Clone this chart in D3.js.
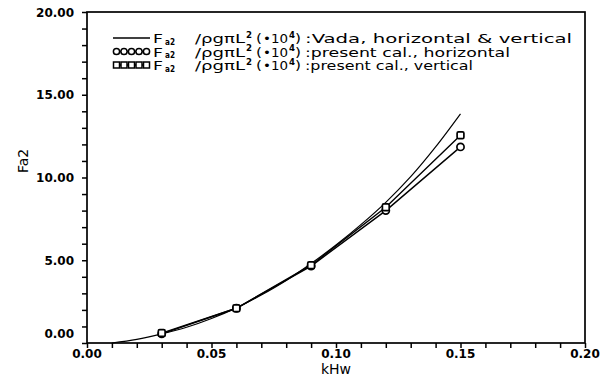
<!DOCTYPE html>
<html>
<head>
<meta charset="utf-8">
<script src="https://cdn.jsdelivr.net/npm/d3@7"></script>
<style>
  html, body { margin: 0; padding: 0; background: #fff; }
  svg { display: block; }
  text { font-family: "DejaVu Sans", sans-serif; fill: #000; }
</style>
</head>
<body>
<svg id="chart" width="603" height="383"></svg>
<script>
// Vada reference curve, kHw vs Fa2 (x 10^4)
const kVada = [0.01, 0.02, 0.03, 0.04, 0.05, 0.06, 0.07, 0.08, 0.09, 0.10, 0.11, 0.12, 0.13, 0.14, 0.15];
const fVada = [0.0, 0.22, 0.55, 0.95, 1.48, 2.12, 2.9, 3.78, 4.8, 5.92, 7.15, 8.5, 10.05, 11.85, 13.85];

// Present calculation, horizontal (circles) and vertical (squares)
const kCalc = [0.03, 0.06, 0.09, 0.12, 0.15];
const fHoriz = [0.55, 2.1, 4.65, 8.0, 11.85];
const fVert = [0.6, 2.1, 4.7, 8.2, 12.55];

// Axis ticks
const xTicks = [0.00, 0.05, 0.10, 0.15, 0.20];
const yTicks = [0, 5, 10, 15, 20];
const xMinor = d3.range(0, 0.2001, 0.01);
const yMinor = d3.range(0, 20.001, 1);

// Legend entries
const legendNames = [":Vada, horizontal & vertical", ":present cal., horizontal", ":present cal., vertical"];
const legendKinds = ["line", "circle", "square"];

const svg = d3.select("#chart");
const plotL = 87, plotR = 585, plotT = 12, plotB = 343;

const x = d3.scaleLinear().domain([0, 0.2]).range([plotL, plotR]);
const y = d3.scaleLinear().domain([0, 20]).range([plotB, plotT]);

// frame
svg.append("rect")
  .attr("x", plotL).attr("y", plotT)
  .attr("width", plotR - plotL).attr("height", plotB - plotT)
  .attr("fill", "none").attr("stroke", "#000").attr("stroke-width", 1.7);

// x axis: major and minor ticks below the frame
const xAxis = svg.append("g").attr("transform", `translate(0,${plotB})`);
xAxis.call(d3.axisBottom(x).tickValues(xMinor).tickSize(5).tickFormat(""))
  .call(g => g.select(".domain").remove())
  .call(g => g.selectAll("line").attr("stroke-width", 1.5));
svg.append("g").selectAll("text").data(xTicks).join("text")
  .attr("x", d => x(d)).attr("y", plotB + 15)
  .attr("text-anchor", "middle")
  .attr("font-size", 12).attr("font-weight", "bold")
  .text(d => d3.format(".2f")(d));

// y axis: ticks to the left of the frame
const yAxis = svg.append("g").attr("transform", `translate(${plotL},0)`);
yAxis.call(d3.axisLeft(y).tickValues(yMinor).tickSize(5).tickFormat(""))
  .call(g => g.select(".domain").remove())
  .call(g => g.selectAll("line").attr("stroke-width", 1.5));
svg.append("g").selectAll("text").data(yTicks).join("text")
  .attr("x", plotL - 13)
  .attr("y", d => y(d) + (d === 0 ? -5 : 4.5))
  .attr("text-anchor", "end")
  .attr("font-size", 12).attr("font-weight", "bold")
  .text(d => d3.format(".2f")(d));

// axis titles
svg.append("text")
  .attr("x", x(0.1)).attr("y", 374)
  .attr("text-anchor", "middle").attr("font-size", 14)
  .text("kHw");
svg.append("text")
  .attr("transform", `translate(28,${y(11)}) rotate(-90)`)
  .attr("text-anchor", "middle").attr("font-size", 14)
  .text("Fa2");

// series
const vadaPts = kVada.map((k, i) => [k, fVada[i]]);
const horizPts = kCalc.map((k, i) => [k, fHoriz[i]]);
const vertPts = kCalc.map((k, i) => [k, fVert[i]]);

const smooth = d3.line().x(d => x(d[0])).y(d => y(d[1])).curve(d3.curveMonotoneX);
const straight = d3.line().x(d => x(d[0])).y(d => y(d[1]));

svg.append("path").attr("d", smooth(vadaPts))
  .attr("fill", "none").attr("stroke", "#000").attr("stroke-width", 1.2);
svg.append("path").attr("d", straight(horizPts))
  .attr("fill", "none").attr("stroke", "#000").attr("stroke-width", 1.4);
svg.append("path").attr("d", straight(vertPts))
  .attr("fill", "none").attr("stroke", "#000").attr("stroke-width", 1.4);

svg.append("g").selectAll("circle").data(horizPts).join("circle")
  .attr("cx", d => x(d[0])).attr("cy", d => y(d[1])).attr("r", 3.6)
  .attr("fill", "#fff").attr("stroke", "#000").attr("stroke-width", 1.7);
svg.append("g").selectAll("rect").data(vertPts).join("rect")
  .attr("x", d => x(d[0]) - 3.4).attr("y", d => y(d[1]) - 3.4)
  .attr("width", 6.8).attr("height", 6.8).attr("rx", 1.4)
  .attr("fill", "#fff").attr("stroke", "#000").attr("stroke-width", 1.7);

// legend
const legend = svg.append("g");
const rowY = [38, 51.5, 65];
const symX0 = 113, symX1 = 150;

function piece(g, str, px, py, size, width, weight) {
  const t = g.append("text").attr("x", px).attr("y", py)
    .attr("font-size", size).text(str);
  if (weight) t.attr("font-weight", weight);
  if (width) t.attr("textLength", width).attr("lengthAdjust", "spacingAndGlyphs");
  return t;
}

legendKinds.forEach((kind, i) => {
  const ly = rowY[i];
  const row = legend.append("g");
  row.append("line").attr("x1", symX0).attr("x2", symX1)
    .attr("y1", ly).attr("y2", ly)
    .attr("stroke", "#000").attr("stroke-width", kind === "line" ? 1.3 : 1.5);
  const xs = d3.range(5).map(j => symX0 + 3.5 + j * 7.5);
  if (kind === "circle") {
    row.selectAll("circle").data(xs).join("circle")
      .attr("cx", d => d).attr("cy", ly).attr("r", 3.1)
      .attr("fill", "#fff").attr("stroke", "#000").attr("stroke-width", 1.5);
  } else if (kind === "square") {
    row.selectAll("rect").data(xs).join("rect")
      .attr("x", d => d - 3).attr("y", ly - 3).attr("width", 6).attr("height", 6)
      .attr("fill", "#fff").attr("stroke", "#000").attr("stroke-width", 1.5);
  }
  const base = ly + 5;
  piece(row, "F", 153, base, 13, 10);
  piece(row, "a2", 165, base + 1.5, 8, 10, "bold");
  piece(row, "/ρgπL", 195, base, 13, 50);
  piece(row, "2", 246, base - 5.5, 8, 6, "bold");
  piece(row, "(", 256, base, 13, 6);
  piece(row, "•10", 263, base, 13, 25);
  piece(row, "4", 289, base - 5.5, 8, 6, "bold");
  piece(row, ")", 295, base, 13, 6);
  piece(row, legendNames[i], 305, base, 13,
    i === 0 ? 267 : (i === 1 ? 205 : 168));
});
</script>
</body>
</html>
